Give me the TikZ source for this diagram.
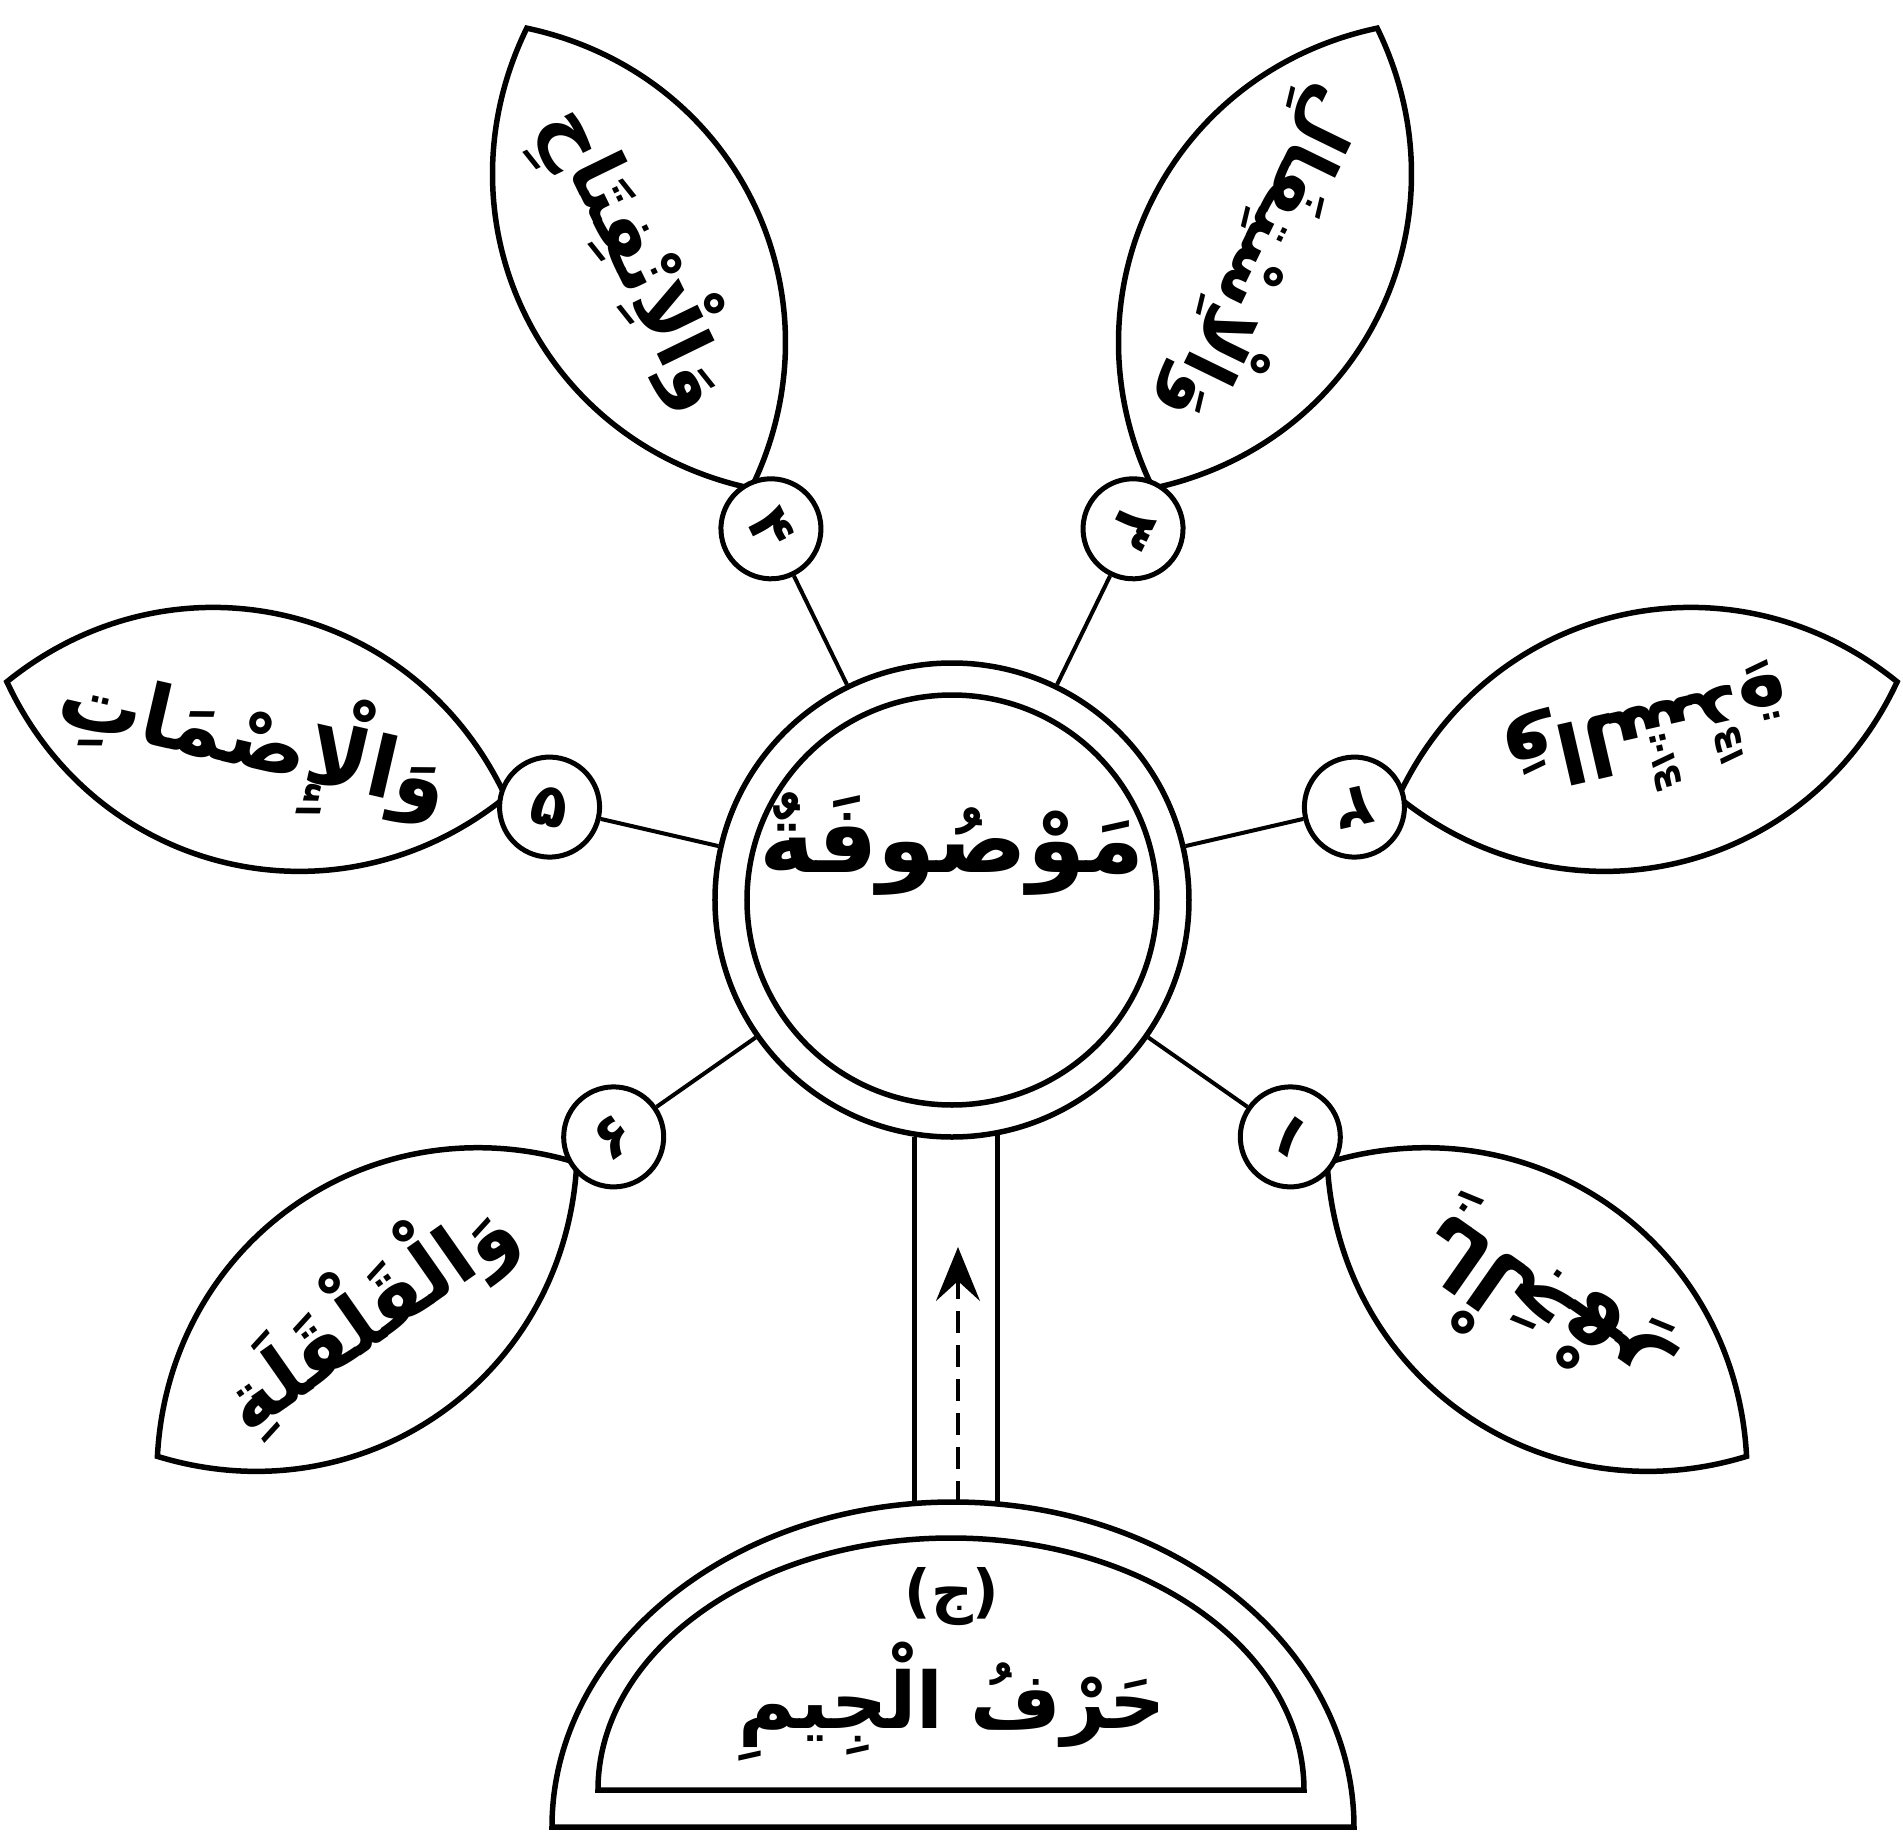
\documentclass[tikz,border=0pt]{standalone}
\usepackage{fontspec}
\newfontfamily\arabicfont[Script=Arabic]{DejaVu Sans}
\TeXXeTstate=1
\usetikzlibrary{arrows.meta}

\begin{document}
\begin{tikzpicture}[
  x=1pt, y=1pt,
  outline/.style={draw=black, line width=5.5pt},
  spoke/.style={draw=black, line width=4pt},
  hubring/.style={circle, draw=black, line width=5.5pt, minimum size=474pt, inner sep=0pt},
  badge/.style={circle, draw=black, fill=white, line width=5pt, minimum size=100pt, inner sep=0pt,
    font=\arabicfont\bfseries\fontsize{60}{60}\selectfont},
  leaftext/.style={inner sep=0pt, font=\arabicfont\bfseries\fontsize{78}{78}\selectfont},
  arr/.style={-{Stealth[length=54pt, width=44pt, inset=20pt]}, line width=3.5pt, dash pattern=on 22pt off 12pt}
]
\useasboundingbox (-952,-937) rectangle (951,900);

% centre
\node[hubring] (hub) at (0,0) {};
\draw[outline] (hub.center) circle[radius=205];
\node[font=\arabicfont\bfseries\fontsize{94}{94}\selectfont] (mawsufa) at (0,56) {\beginR مَوْصُوفَةٌ\endR};

% leaves
\draw[outline, rotate=-35] (458,0) .. controls +(52:215) and +(128:215) .. (970,0) .. controls +(-128:215) and +(-52:215) .. (458,0);
\draw[outline, rotate=13] (458,0) .. controls +(52:215) and +(128:215) .. (970,0) .. controls +(-128:215) and +(-52:215) .. (458,0);
\draw[outline, rotate=64] (458,0) .. controls +(52:215) and +(128:215) .. (970,0) .. controls +(-128:215) and +(-52:215) .. (458,0);
\draw[outline, rotate=116] (458,0) .. controls +(52:215) and +(128:215) .. (970,0) .. controls +(-128:215) and +(-52:215) .. (458,0);
\draw[outline, rotate=167] (458,0) .. controls +(52:215) and +(128:215) .. (970,0) .. controls +(-128:215) and +(-52:215) .. (458,0);
\draw[outline, rotate=-145] (458,0) .. controls +(52:215) and +(128:215) .. (970,0) .. controls +(-128:215) and +(-52:215) .. (458,0);

\node[leaftext, rotate=145, font=\arabicfont\bfseries\fontsize{86}{86}\selectfont] (jahr) at (-35:716) {\beginR بِالْجَهْرِ\endR};
\node[leaftext, rotate=193, font=\arabicfont\bfseries\fontsize{82}{82}\selectfont] (shidda) at (13:716) {\beginR وَالشِّدَّةِ\endR};
\node[leaftext, rotate=244, font=\arabicfont\bfseries\fontsize{72}{72}\selectfont] (istifal) at (64:716) {\beginR وَالْاِسْتِفَالِ\endR};
\node[leaftext, rotate=296, font=\arabicfont\bfseries\fontsize{76}{76}\selectfont] (infitah) at (116:716) {\beginR وَالْاِنْفِتَاحِ\endR};
\node[leaftext, rotate=347, font=\arabicfont\bfseries\fontsize{84}{84}\selectfont] (ismat) at (167:716) {\beginR وَالْإِصْمَاتِ\endR};
\node[leaftext, rotate=35, font=\arabicfont\bfseries\fontsize{80}{80}\selectfont] (qalqala) at (-145:716) {\beginR وَالْقَلْقَلَةِ\endR};

% numbered badges
\node[badge, rotate=145] (n1) at (-35:413) {۱};
\node[badge, rotate=193] (n2) at (13:413) {۲};
\node[badge, rotate=244] (n3) at (64:413) {۳};
\node[badge, rotate=296] (n4) at (116:413) {۴};
\node[badge, rotate=347] (n5) at (167:413) {۵};
\node[badge, rotate=35] (n6) at (-145:413) {۶};

\draw[spoke] (hub) -- (n1);
\draw[spoke] (hub) -- (n2);
\draw[spoke] (hub) -- (n3);
\draw[spoke] (hub) -- (n4);
\draw[spoke] (hub) -- (n5);
\draw[spoke] (hub) -- (n6);

% base
\draw[outline] (-400,-927) arc[start angle=180, end angle=0, x radius=401, y radius=325] -- cycle;
\draw[outline] (-354,-890) arc[start angle=180, end angle=0, x radius=353, y radius=252] -- cycle;
\node[font=\arabicfont\bfseries\fontsize{58}{58}\selectfont] (jim) at (0,-697) {(ج)};
\node[font=\arabicfont\bfseries\fontsize{78}{78}\selectfont] (harf) at (0,-802) {\beginR حَرْفُ الْجِيمِ\endR};

% stem and arrow
\coordinate (dometop) at (6,-603);
\coordinate (arrowtip) at (6,-347);
\draw[outline] (hub.-99) -- (hub.-99 |- dometop);
\draw[outline] (hub.-79) -- (hub.-79 |- dometop);
\draw[arr] (dometop) -- (arrowtip);
\end{tikzpicture}
\end{document}
